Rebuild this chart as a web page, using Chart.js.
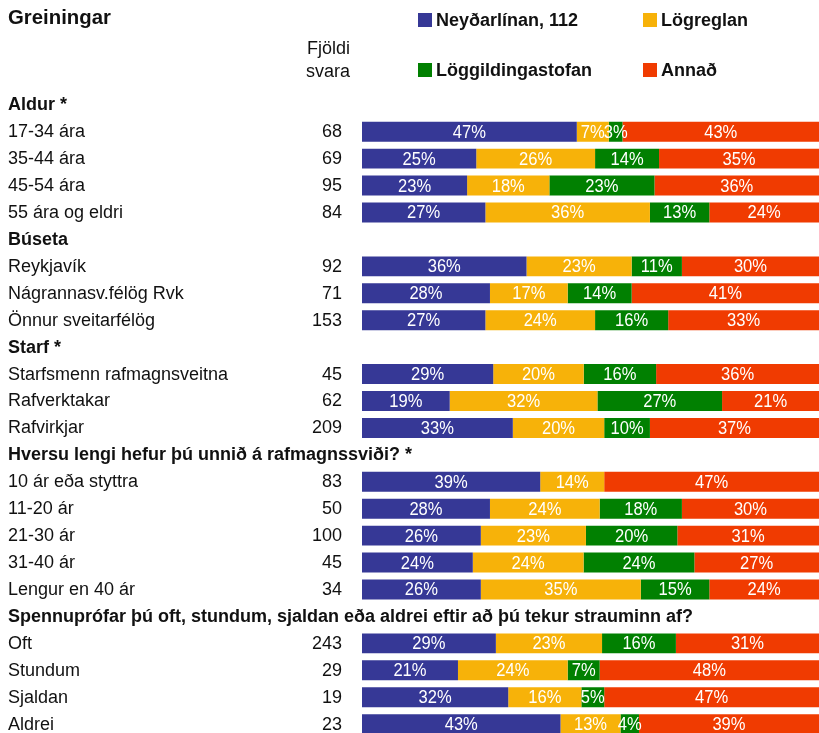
<!DOCTYPE html>
<html>
<head>
<meta charset="utf-8">
<script src="https://cdn.jsdelivr.net/npm/chart.js@4/dist/chart.umd.min.js"></script>
<style>
html,body{margin:0;padding:0;background:#fff;overflow:hidden;width:819px;height:733px;}
canvas{display:block;}
</style>
</head>
<body>
<canvas id="c" width="819" height="738"></canvas>
<script>
const categories = [
  "Aldur *", "17-34 ára", "35-44 ára", "45-54 ára", "55 ára og eldri",
  "Búseta", "Reykjavík", "Nágrannasv.félög Rvk", "Önnur sveitarfélög",
  "Starf *", "Starfsmenn rafmagnsveitna", "Rafverktakar", "Rafvirkjar",
  "Hversu lengi hefur þú unnið á rafmagnssviði? *", "10 ár eða styttra", "11-20 ár", "21-30 ár", "31-40 ár", "Lengur en 40 ár",
  "Spennuprófar þú oft, stundum, sjaldan eða aldrei eftir að þú tekur strauminn af?", "Oft", "Stundum", "Sjaldan", "Aldrei"
];
const isHeader = [1,0,0,0,0, 1,0,0,0, 1,0,0,0, 1,0,0,0,0,0, 1,0,0,0,0];
const counts = [null,68,69,95,84, null,92,71,153, null,45,62,209, null,83,50,100,45,34, null,243,29,19,23];
const seriesNames = ["Neyðarlínan, 112", "Lögreglan", "Löggildingastofan", "Annað"];
const neydarlinan = [null,47,25,23,27, null,36,28,27, null,29,19,33, null,39,28,26,24,26, null,29,21,32,43];
const logreglan   = [null,7,26,18,36,  null,23,17,24, null,20,32,20, null,14,24,23,24,35, null,23,24,16,13];
const loggilding  = [null,3,14,23,13,  null,11,14,16, null,16,27,10, null,0,18,20,24,15,  null,16,7,5,4];
const annad       = [null,43,35,36,24, null,30,41,33, null,36,21,37, null,47,30,31,27,24, null,31,48,47,39];
const colors = ["#363896", "#F7B209", "#018001", "#F03B01"];

const raw = [neydarlinan, logreglan, loggilding, annad];
const sums = categories.map((_, i) => raw.reduce((s, a) => s + (a[i] || 0), 0));
const norm = raw.map(a => a.map((v, i) => v == null ? null : v / sums[i] * 100));

const FONT = "'Liberation Sans', Arial, sans-serif";
const TXT = "#111111";

function txt(ctx, s, x, y, sx) {
  ctx.save();
  ctx.translate(x, y);
  ctx.scale(sx, 1);
  ctx.fillText(s, 0, 0);
  ctx.restore();
}

const overlay = {
  id: 'overlay',
  afterDatasetsDraw(chart) {
    const ctx = chart.ctx;
    const y = chart.scales.y;
    ctx.save();
    ctx.textBaseline = "middle";
    // segment labels
    ctx.font = "18px " + FONT;
    ctx.fillStyle = "#ffffff";
    ctx.textAlign = "center";
    chart.data.datasets.forEach((ds, di) => {
      const meta = chart.getDatasetMeta(di);
      meta.data.forEach((el, i) => {
        const v = raw[di][i];
        if (v == null || v === 0) return;
        txt(ctx, v + "%", (el.x + el.base) / 2, el.y + 1, 0.92);
      });
    });
    // row labels and counts
    categories.forEach((lab, i) => {
      const py = y.getPixelForValue(i) + 0.5;
      ctx.fillStyle = TXT;
      ctx.textAlign = "left";
      if (isHeader[i]) {
        ctx.font = "bold 18px " + FONT;
        txt(ctx, lab, 8, py, 1.0);
      } else {
        ctx.font = "18px " + FONT;
        txt(ctx, lab, 8, py, 1.0);
      }
      if (counts[i] != null) {
        ctx.textAlign = "right";
        ctx.font = "18px " + FONT;
        txt(ctx, String(counts[i]), 342, py, 1.0);
      }
    });
    // title
    ctx.fillStyle = TXT;
    ctx.textAlign = "left";
    ctx.font = "bold 21px " + FONT;
    txt(ctx, "Greiningar", 8, 18, 0.97);
    // column header
    ctx.textAlign = "right";
    ctx.font = "18px " + FONT;
    txt(ctx, "Fjöldi", 350, 49, 1.0);
    txt(ctx, "svara", 350, 72, 1.0);
    // legend
    const pos = [[418, 20], [643, 20], [418, 70], [643, 70]];
    chart.data.datasets.forEach((ds, di) => {
      const [lx, ly] = pos[di];
      ctx.fillStyle = ds.backgroundColor;
      ctx.fillRect(lx, ly - 7, 14, 14);
      ctx.fillStyle = TXT;
      ctx.textAlign = "left";
      ctx.font = "bold 18px " + FONT;
      txt(ctx, ds.label, lx + 18, ly + 1, 1.0);
    });
    ctx.restore();
  }
};

new Chart(document.getElementById('c'), {
  type: 'bar',
  data: {
    labels: categories,
    datasets: norm.map((d, i) => ({
      label: seriesNames[i],
      data: d,
      backgroundColor: colors[i],
      borderWidth: 0,
      barPercentage: 0.74,
      categoryPercentage: 1.0
    }))
  },
  options: {
    indexAxis: 'y',
    responsive: false,
    animation: false,
    devicePixelRatio: 1,
    layout: { padding: { left: 362, right: 0, top: 91.3, bottom: 0.4 } },
    plugins: { legend: { display: false }, tooltip: { enabled: false } },
    scales: {
      x: { stacked: true, min: 0, max: 100, display: false },
      y: { stacked: true, display: false }
    }
  },
  plugins: [overlay]
});
</script>
</body>
</html>
